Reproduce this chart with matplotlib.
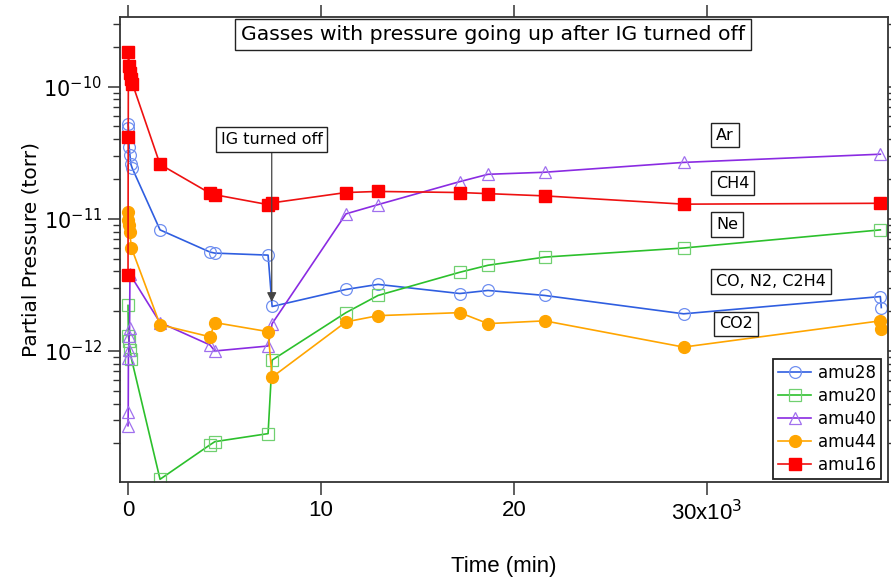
import matplotlib
matplotlib.use("Agg")
import matplotlib.pyplot as plt
from matplotlib.ticker import FixedLocator, FixedFormatter, LogLocator, NullFormatter

# time in minutes, partial pressure in torr
t_amu28 = [0, 20, 60, 100, 150, 220, 1660, 4250, 4500, 7260, 7470, 11300, 12960,
           17200, 18660, 21600, 28800, 39000, 39050]
p_amu28 = [5.22e-11, 4.87e-11, 3.48e-11, 3.03e-11, 2.58e-11, 2.41e-11, 8.24e-12,
           5.6e-12, 5.5e-12, 5.31e-12, 2.17e-12, 2.92e-12, 3.19e-12, 2.72e-12,
           2.87e-12, 2.63e-12, 1.91e-12, 2.58e-12, 2.13e-12]

t_amu20 = [0, 20, 50, 100, 180, 1660, 4250, 4500, 7260, 7470, 11300, 12960,
           17200, 18660, 21600, 28800, 39000]
p_amu20 = [2.21e-12, 1.30e-12, 1.19e-12, 1.02e-12, 8.69e-13, 1.07e-13, 1.95e-13,
           2.06e-13, 2.37e-13, 8.53e-13, 1.95e-12, 2.63e-12, 3.94e-12, 4.45e-12,
           5.13e-12, 6.01e-12, 8.24e-12]

t_amu40 = [0, 10, 20, 40, 60, 80, 100, 1660, 4250, 4500, 7260, 7470, 11300, 12960,
           17200, 18660, 21600, 28800, 39000]
p_amu40 = [2.72e-13, 3.48e-13, 8.85e-13, 1.02e-12, 1.30e-12, 1.50e-12, 3.80e-12,
           1.64e-12, 1.11e-12, 1.0e-12, 1.09e-12, 1.61e-12, 1.09e-11, 1.28e-11,
           1.91e-11, 2.17e-11, 2.25e-11, 2.67e-11, 3.08e-11]

t_amu44 = [0, 20, 40, 80, 180, 1660, 4250, 4500, 7260, 7470, 11300, 12960,
           17200, 18660, 21600, 28800, 39000, 39050]
p_amu44 = [1.13e-11, 9.82e-12, 8.99e-12, 7.96e-12, 6.01e-12, 1.58e-12, 1.28e-12,
           1.64e-12, 1.40e-12, 6.34e-13, 1.66e-12, 1.85e-12, 1.95e-12, 1.61e-12,
           1.69e-12, 1.07e-12, 1.69e-12, 1.47e-12]

t_amu16 = [0, 10, 20, 50, 100, 160, 230, 1660, 4250, 4500, 7260, 7470, 11300, 12960,
           17200, 18660, 21600, 28800, 39000]
p_amu16 = [3.74e-12, 4.15e-11, 1.82e-10, 1.44e-10, 1.26e-10, 1.15e-10, 1.05e-10,
           2.58e-11, 1.56e-11, 1.52e-11, 1.28e-11, 1.32e-11, 1.58e-11, 1.61e-11,
           1.58e-11, 1.55e-11, 1.49e-11, 1.29e-11, 1.31e-11]

x_ticks = [0, 10000, 20000, 30000]
x_ticklabels = ["0", "10", "20", "30x10$^{3}$"]

gas_labels = ["Ar", "CH4", "Ne", "CO, N2, C2H4", "CO2"]

plt.rcParams['font.family'] = ['DejaVu Sans']
plt.rcParams['mathtext.fontset'] = 'custom'
plt.rcParams['mathtext.rm'] = 'DejaVu Sans'
narrow = ['Liberation Sans', 'DejaVu Sans']

fig = plt.figure(figsize=(8.91, 5.79), dpi=100)
ax = fig.add_axes([0.1347, 0.1675, 0.862, 0.8031])

ax.plot(t_amu28, p_amu28, color='#2f5ee0', lw=1.2, marker='o', ms=8.5, mfc='none',
        mec='#6f8ff0', mew=0.9, label='amu28')
ax.plot(t_amu20, p_amu20, color='#2cc02c', lw=1.2, marker='s', ms=8, mfc='none',
        mec='#70d070', mew=0.9, label='amu20')
ax.plot(t_amu40, p_amu40, color='#8a2be2', lw=1.2, marker='^', ms=9, mfc='none',
        mec='#a070ee', mew=0.9, label='amu40')
ax.plot(t_amu44, p_amu44, color='#ffa500', lw=1.2, marker='o', ms=8.5, mfc='#ffa500',
        mec='#ffa500', label='amu44')
ax.plot(t_amu16, p_amu16, color='#ee1111', lw=1.2, marker='s', ms=8.5, mfc='#ff0000',
        mec='#ff0000', label='amu16')

ax.set_yscale('log')
ax.set_xlim(-415, 39400)
ax.set_ylim(1.02e-13, 3.36e-10)

ax.xaxis.set_major_locator(FixedLocator(x_ticks))
ax.xaxis.set_major_formatter(FixedFormatter(x_ticklabels))
ax.yaxis.set_major_locator(LogLocator(base=10))
ax.yaxis.set_minor_locator(LogLocator(base=10, subs=range(2, 10)))
ax.yaxis.set_minor_formatter(NullFormatter())

for sp in ax.spines.values():
    sp.set_color('#333333')
    sp.set_linewidth(1.3)

ax.tick_params(axis='x', which='major', direction='out', length=9, width=1.1,
               color='#333333', top=True, pad=4)
ax.tick_params(axis='y', which='major', direction='out', length=9, width=1.1,
               color='#333333', right=True, labelsize=15, pad=4)
ax.tick_params(axis='y', which='minor', direction='out', length=5, width=1.0,
               color='#333333', right=True)
for lab in ax.get_xticklabels():
    lab.set_family(narrow)
    lab.set_fontsize(16)

ax.set_xlabel("Time (min)", family=narrow, fontsize=16, labelpad=22)
ax.set_ylabel("Partial Pressure (torr)", fontsize=14.5, labelpad=2)

box = dict(boxstyle='square,pad=0.3', fc='white', ec='#222222', lw=1.0)

ax.text(0.486, 0.963, "Gasses with pressure going up after IG turned off",
        transform=ax.transAxes, ha='center', va='center', fontsize=14.7, bbox=box,
        zorder=5)

ax.annotate("IG turned off", xy=(7450, 2.35e-12), xytext=(7450, 3.97e-11),
            ha='center', va='center', fontsize=11.5, bbox=box, zorder=5,
            arrowprops=dict(arrowstyle='-|>', color='#444444', lw=0.9,
                            mutation_scale=14, shrinkA=0, shrinkB=0))

label_pos = [(0.776, 0.746), (0.776, 0.643), (0.776, 0.554), (0.776, 0.431),
             (0.780, 0.340)]
for txt, (lx, ly) in zip(gas_labels, label_pos):
    ax.text(lx, ly, txt, transform=ax.transAxes, ha='left', va='center',
            fontsize=11.5, bbox=box, zorder=5)

leg = ax.legend(loc='lower right', bbox_to_anchor=(0.991, 0.006), borderaxespad=0,
                fontsize=12, fancybox=False, framealpha=1, edgecolor='#222222',
                handlelength=2.0, labelspacing=0.3, borderpad=0.3,
                handletextpad=0.4)
leg.get_frame().set_linewidth(1.3)

plt.savefig("out.png", dpi=100)
